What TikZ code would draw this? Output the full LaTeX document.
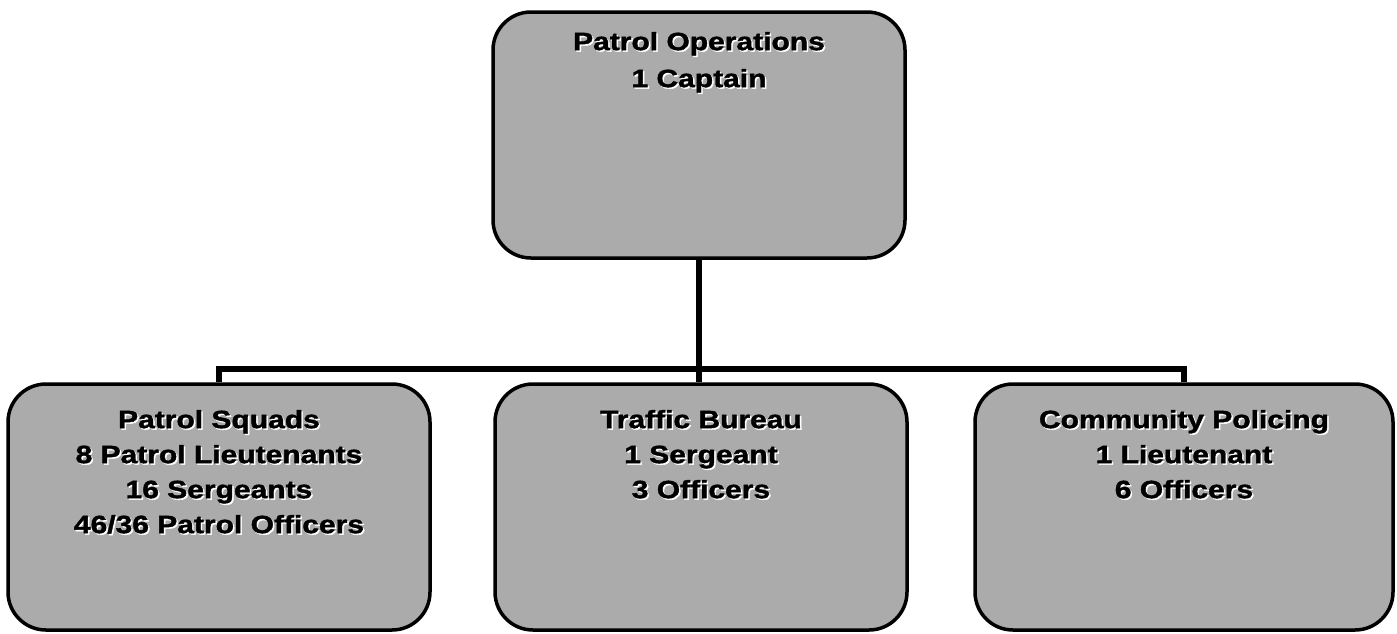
\documentclass[tikz,border=0pt]{standalone}
\usepackage{fontspec}
\newfontfamily\boxfont{Liberation Sans}[FakeStretch=1.2, BoldFeatures={FakeBold=1.6}]
\newcommand\shl[1]{\leavevmode\rlap{\kern1.5pt\raisebox{-1.5pt}{\color{white}#1}}#1}
\newcommand\btext[2]{\parbox[c][246pt][t]{405pt}{\centering\boxfont\bfseries\fontsize{25}{35}\selectfont\vspace*{#1}#2}}
\begin{document}
\begin{tikzpicture}[x=1pt,y=-1pt,
  box/.style={draw=black, line width=3.5pt, fill=black!33, rounded corners=38pt, inner sep=0pt},
  conn/.style={line width=5.5pt}]
\useasboundingbox (0,0) rectangle (1397,633);
\node[box, minimum width=412pt] (top) at (699,135)
  {\btext{20pt}{\shl{Patrol Operations}\\[2pt]\shl{1 Captain}}};
\node[box, minimum width=422pt] (left) at (219,507)
  {\btext{26pt}{\shl{Patrol Squads}\\\shl{8 Patrol Lieutenants}\\\shl{16 Sergeants}\\\shl{46/36 Patrol Officers}}};
\node[box, minimum width=412pt] (mid) at (701,507)
  {\btext{26pt}{\shl{Traffic Bureau}\\\shl{1 Sergeant}\\\shl{3 Officers}}};
\node[box, minimum width=418pt] (right) at (1184,507)
  {\btext{26pt}{\shl{Community Policing}\\\shl{1 Lieutenant}\\\shl{6 Officers}}};
\coordinate (bus) at (0,369);
\draw[conn] (top.south) -- (top.south |- mid.north);
\draw[conn] (left.north) -- (left.north |- bus) -- (right.north |- bus) -- (right.north);
\end{tikzpicture}
\end{document}
